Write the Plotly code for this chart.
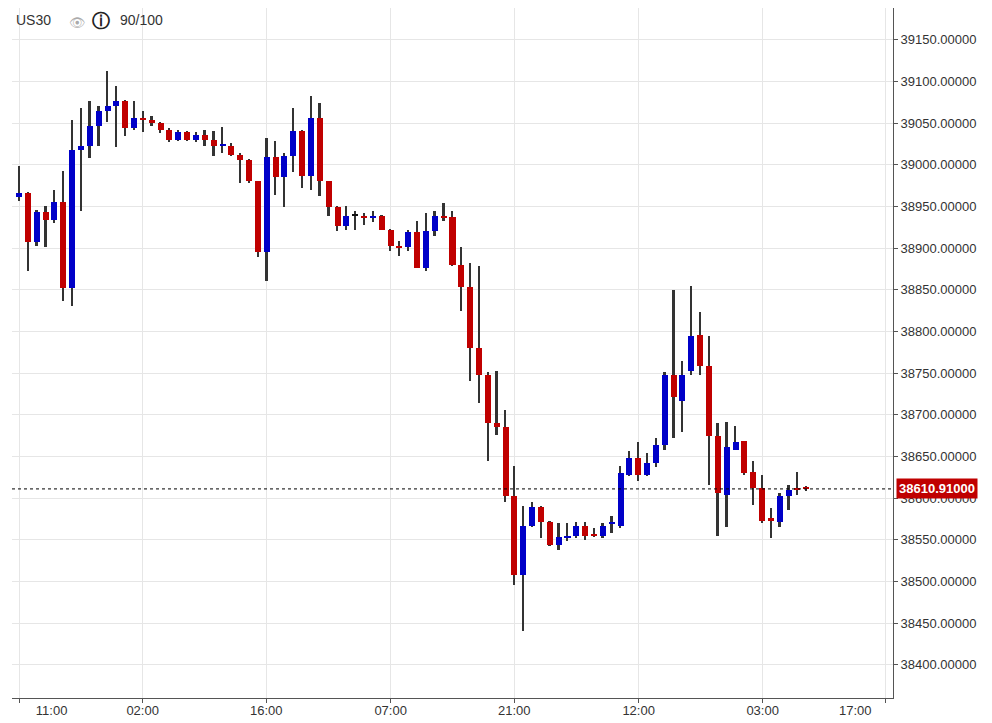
import plotly.graph_objects as go

opens  = [38961,38966,38907,38943,38934,38955,38852,39018,39023,39046,39064,39070,39076,39044,39056,39054,39050,39042,39030,39039,
          39030,39036,39030,39023,39023,39012,39006,38980,38895,39009,38985,39010,39040,38987,39056,38980,38949,38927,38939,38939,
          38936,38938,38922,38903,38901,38919,38876,38920,38938,38937,38880,38853,38780,38748,38690,38685,38602,38508,38567,38589,
          38571,38544,38553,38555,38567,38556,38555,38569,38567,38628,38648,38628,38642,38664,38748,38717,38752,38796,38759,38674,
          38604,38658,38668,38631,38612,38576,38571,38603,38612,38613]
highs  = [38999,38967,38946,38950,38970,38992,39054,39068,39076,39070,39112,39095,39078,39076,39065,39058,39051,39044,39042,39041,
          39039,39042,39041,39045,39026,39014,39007,38981,39032,39029,39014,39068,39042,39082,39074,38981,38950,38950,38945,38942,
          38944,38940,38923,38908,38922,38932,38942,38944,38954,38945,38901,38882,38879,38751,38753,38706,38639,38591,38595,38590,
          38572,38570,38570,38571,38571,38564,38570,38579,38638,38657,38667,38654,38672,38751,38850,38764,38854,38823,38795,38690,
          38691,38687,38669,38644,38628,38588,38606,38616,38631,38614]
lows   = [38956,38873,38903,38901,38930,38837,38831,38944,39008,39022,39051,39021,39034,39042,39039,39047,39038,39027,39029,39029,
          39027,39022,39011,39014,39010,38978,38978,38889,38861,38964,38949,38991,38972,38970,38963,38938,38920,38922,38922,38928,
          38931,38922,38897,38890,38897,38876,38873,38915,38932,38879,38824,38741,38714,38644,38676,38595,38496,38441,38565,38552,
          38542,38538,38549,38552,38550,38553,38552,38558,38564,38626,38621,38627,38637,38658,38672,38679,38748,38748,38616,38554,
          38565,38658,38628,38592,38570,38552,38565,38586,38604,38609]
closes = [38966,38907,38943,38934,38955,38852,39018,39023,39046,39064,39070,39076,39044,39056,39054,39050,39042,39030,39039,39030,
          39036,39030,39023,39024,39012,39006,38980,38895,39009,38985,39010,39040,38987,39056,38980,38949,38927,38939,38939,38936,
          38938,38922,38903,38901,38919,38876,38920,38938,38937,38880,38853,38780,38748,38690,38685,38602,38508,38567,38589,38571,
          38544,38553,38554,38567,38555,38555,38566,38570,38630,38648,38628,38642,38664,38748,38721,38748,38795,38758,38675,38606,
          38661,38667,38630,38612,38573,38572,38602,38610,38610,38610.91]

tick_idx = [0, 14, 28, 42, 56, 70, 84, 98]
tick_time = ["11:00", "02:00", "16:00", "07:00", "21:00", "12:00", "03:00", "17:00"]
tick_date = ["Mar/1/24", "Mar/4/24", "", "Mar/5/24", "", "Mar/6/24", "Mar/7/24", ""]
last_price = 38610.91
y_ticks = list(range(38350, 39201, 50))

BLUE, RED, WICK = "#0000c8", "#c00000", "#333333"
FONT = "Liberation Sans, Arial"
x = list(range(len(opens)))
cols = []
for o, c in zip(opens, closes):
    cols.append(BLUE if c > o else (RED if c < o else "#111111"))
body_base = [min(o, c) for o, c in zip(opens, closes)]
body_h = [max(abs(c - o), 1.6) for o, c in zip(opens, closes)]

fig = go.Figure()
fig.add_trace(go.Bar(x=x, y=[h - l for h, l in zip(highs, lows)], base=lows, width=0.2,
                     marker=dict(color=WICK, line=dict(width=0)), hoverinfo="skip"))
fig.add_trace(go.Bar(x=x, y=body_h, base=body_base, width=0.68,
                     marker=dict(color=cols, line=dict(width=0))))

fig.add_shape(type="line", xref="paper", x0=0, x1=1, yref="y", y0=last_price, y1=last_price,
              line=dict(color="#000", width=1, dash="dot"))

ann = []
for i, t, d in zip(tick_idx, tick_time, tick_date):
    xx = i
    if i == 0:
        xx = 3.7
    if i == 98:
        xx = 94.6
    txt = t if not d else t + "<br>" + d
    ann.append(dict(x=xx, xref="x", y=0, yref="paper", yshift=-3, yanchor="top", showarrow=False,
                    text=txt, font=dict(family=FONT, size=13, color="#333")))
ann.append(dict(x=1, xref="paper", xanchor="left", xshift=3, y=last_price, yref="y", showarrow=False,
                text="<b>%.5f</b>" % last_price, bgcolor=RED, borderpad=2,
                font=dict(family=FONT, size=13, color="white")))
ann.append(dict(x=0, xref="paper", xshift=2, xanchor="left", y=1, yref="paper", yanchor="top", yshift=-2,
                showarrow=False, text="US30", font=dict(family=FONT, size=14, color="#333")))
ann.append(dict(x=0, xref="paper", xshift=55, xanchor="left", y=1, yref="paper", yanchor="top", yshift=-3,
                showarrow=False, text="👁", font=dict(size=13, color="#aaa")))
ann.append(dict(x=0, xref="paper", xshift=78, xanchor="left", y=1, yref="paper", yanchor="top", yshift=0,
                showarrow=False, text="<b>ⓘ</b>", font=dict(family="DejaVu Sans", size=18, color="#222")))
ann.append(dict(x=0, xref="paper", xshift=106, xanchor="left", y=1, yref="paper", yanchor="top", yshift=-2,
                showarrow=False, text="90/100", font=dict(family=FONT, size=14, color="#333")))

fig.update_layout(
    width=992, height=723, margin=dict(l=4, r=107, t=0, b=33, autoexpand=False),
    paper_bgcolor="white", plot_bgcolor="white", showlegend=False, barmode="overlay", bargap=0,
    annotations=ann,
    xaxis=dict(range=[-0.8, 98.8], tickvals=tick_idx, showticklabels=False, showgrid=True, automargin=False,
               gridcolor="#e6e6e6", zeroline=False, showline=True, linecolor="#555", ticks="outside",
               ticklen=4, tickcolor="#555"),
    yaxis=dict(side="right", range=[38360, 39188], tickvals=y_ticks, automargin=False,
               ticktext=["%.5f" % v for v in y_ticks], showgrid=True, gridcolor="#e6e6e6",
               zeroline=False, showline=True, linecolor="#555", ticks="outside", ticklen=4,
               tickcolor="#555", tickfont=dict(family=FONT, size=13, color="#333")),
)
fig.write_html("out.html")
